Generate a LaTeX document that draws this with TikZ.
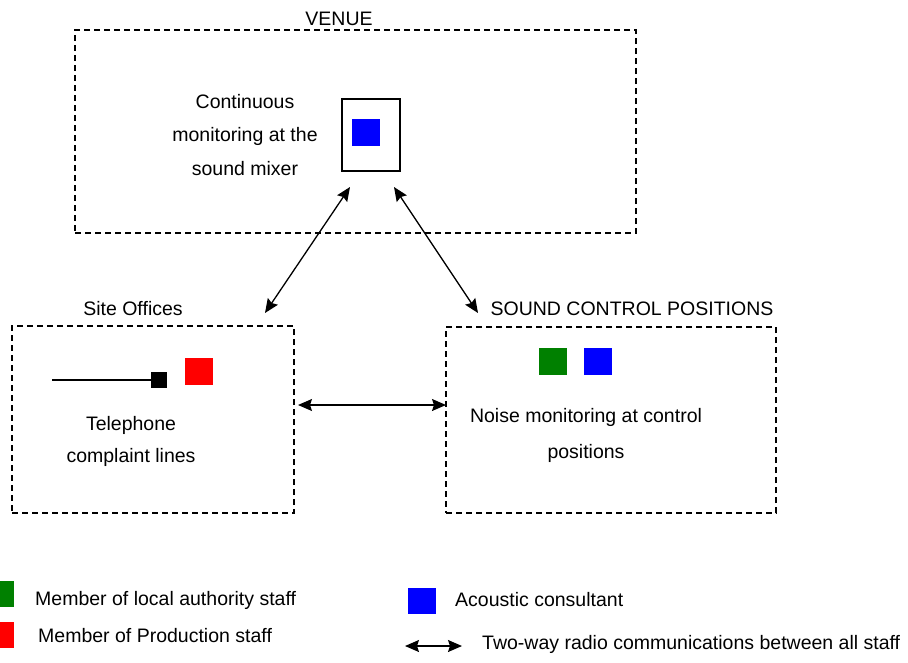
\documentclass[tikz,border=0pt]{standalone}
\usepackage{fontspec}
\setmainfont{Liberation Sans}
\usetikzlibrary{arrows.meta}
\begin{document}
\begin{tikzpicture}[x=1pt,y=-1pt,
  every node/.style={font=\fontsize{19.5}{33}\selectfont, inner sep=0pt},
  area/.style={draw, dashed, dash pattern=on 6pt off 4pt, line width=1.2pt, inner sep=0pt},
  solidbox/.style={draw, line width=1.5pt, inner sep=0pt},
  sq/.style={inner sep=0pt, minimum width=28pt, minimum height=27pt},
  link/.style={line width=1.3pt, {Stealth[length=14pt,width=12pt,inset=2pt]}-{Stealth[length=14pt,width=12pt,inset=2pt]}}
]
\useasboundingbox (0,0) rectangle (908,662);
\clip (0,0) rectangle (908,662);
% boxes
\node[area, minimum width=561pt, minimum height=203pt] (venue) at (355.5,131.5) {};
\node[solidbox, minimum width=58pt, minimum height=72pt] (mixer) at (371,135) {};
\node[sq, fill=blue] (mixsq) at (365.5,132.5) {};
\node[area, minimum width=282pt, minimum height=187pt] (site) at (153,419.5) {};
\node[area, minimum width=330pt, minimum height=186pt] (sound) at (611,420) {};
% titles
\node (venuelbl) at (339,19) {VENUE};
\node (sitelbl) at (133,309) {Site Offices};
\node (soundlbl) at (632,309) {SOUND CONTROL POSITIONS};
% texts
\node[align=center, font=\fontsize{19.5}{33.5}\selectfont] (conttxt) at (245,135) {Continuous\\monitoring at the\\sound mixer};
\node[align=center, font=\fontsize{19.5}{32}\selectfont] (teltxt) at (131,441) {Telephone\\complaint lines};
\node[align=center, font=\fontsize{19.5}{36}\selectfont] (noisetxt) at (586,435) {Noise monitoring at control\\positions};
% site office symbols
\node[fill=black, minimum width=16pt, minimum height=16pt] (phone) at (159,380) {};
\coordinate (lineL) at (52,380);
\draw[line width=1.3pt] (lineL) -- (phone.west);
\node[sq, fill=red] (redsq) at (199,371) {};
% sound control symbols
\node[sq, fill=green!50!black] (greensq) at (553,361) {};
\node[sq, fill=blue] (bluesq) at (597.5,361) {};
% connectors
\coordinate (a1) at (350,187);
\coordinate (a2) at (265,313);
\coordinate (b1) at (394,187);
\coordinate (b2) at (478,313);
\coordinate (c1) at (298,405);
\coordinate (c2) at (446,405);
\draw[link] (a1) -- (a2);
\draw[link] (b1) -- (b2);
\draw[link] (c1) -- (c2);
% legend
\node[sq, fill=green!50!black, minimum height=26pt] (lg1) at (0,594) {};
\node[anchor=west] (lg1t) at (35,600) {Member of local authority staff};
\node[sq, fill=red, minimum height=26pt] (lg2) at (0,635) {};
\node[anchor=west] (lg2t) at (38,636) {Member of Production staff};
\node[sq, fill=blue, minimum height=26pt] (lg3) at (422,601) {};
\node[anchor=west] (lg3t) at (455,600) {Acoustic consultant};
\coordinate (lg4a) at (405,646);
\coordinate (lg4b) at (462,646);
\draw[link] (lg4a) -- (lg4b);
\node[anchor=west] (lg4t) at (482,644) {Two-way radio communications between all staff};
\end{tikzpicture}
\end{document}
